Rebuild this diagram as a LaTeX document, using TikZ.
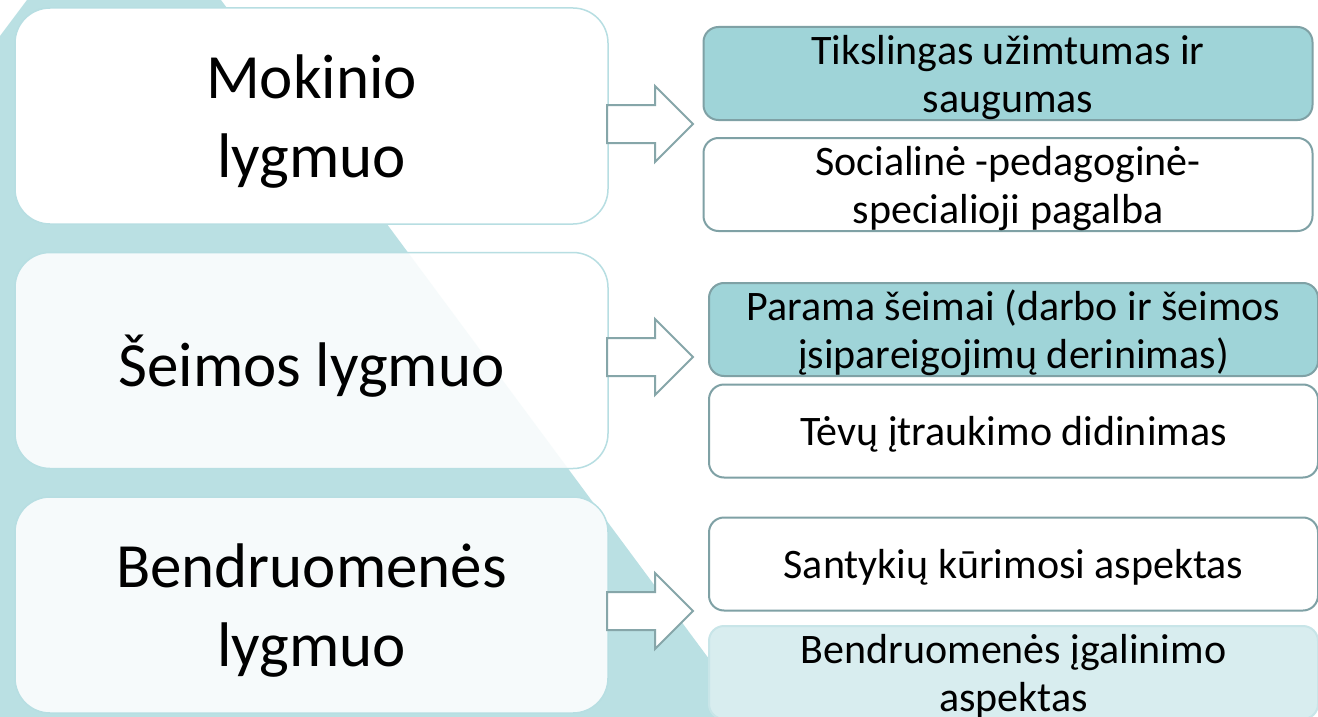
\documentclass[tikz,border=0pt]{standalone}
\usepackage{fontspec}
\setmainfont{Carlito}
\usetikzlibrary{positioning}
\definecolor{tealbg}{HTML}{BAE0E3}
\definecolor{levelline}{HTML}{B7DEE2}
\definecolor{itemline}{HTML}{7FA1A5}
\definecolor{arrowline}{HTML}{86A6A9}
\definecolor{tealfill}{HTML}{9FD4D8}
\definecolor{palefill}{HTML}{D8EDEF}
\definecolor{paleline}{HTML}{C8E5E8}
\tikzstyle{level} = [rectangle, rounded corners=35pt, minimum width=593pt, minimum height=216pt,
align=center, text depth=0pt, draw=levelline, line width=1.5pt, fill=white, font=\fontsize{63}{79}\selectfont]
\tikzstyle{plainbox} = [rectangle, rounded corners=15pt, minimum width=609pt, minimum height=93pt,
align=center, text depth=0pt, draw=itemline, line width=2pt, fill=white, font=\fontsize{42}{48}\selectfont]
\tikzstyle{tealbox} = [plainbox, fill=tealfill]
\tikzstyle{palebox} = [plainbox, fill=palefill, draw=paleline]
\tikzstyle{arrow} = [draw=arrowline, line width=2pt, fill=white, line join=miter]

\begin{document}
\begin{tikzpicture}[x=1pt, y=-1pt, node distance=244.5pt]
\useasboundingbox (0,0) rectangle (1318,717);
\fill[white] (0,0) rectangle (1318,717);
% background shape
\fill[tealbg] (0,717) -- (0,36) -- (27,0) -- (221,0) -- (752,717) -- cycle;

% levels
\node (1)[level] at (311.5,116) {Mokinio\\lygmuo};
\node (2)[level, below of=1, fill opacity=0.87, text opacity=1]{Šeimos lygmuo};
\node (3)[level, below of=2, fill opacity=0.87, text opacity=1]{Bendruomenės\\lygmuo};

% arrows
\coordinate (a1) at (607,124);
\coordinate (a2) at (607,357);
\coordinate (a3) at (607,611);
\foreach \a in {a1,a2,a3}
  \draw [arrow](\a) ++(0,-19) -- ++(48,0) -- ++(0,-19) -- ++(38,38) -- ++(-38,38) -- ++(0,-19) -- ++(-48,0) -- cycle;

% items
\node (1a)[tealbox] at (1008,73.5){Tikslingas užimtumas ir\\saugumas};
\node (1b)[plainbox] at (1008,184.5){Socialinė -pedagoginė-\\specialioji pagalba};
\node (2a)[tealbox] at (1013.5,329.5){Parama šeimai (darbo ir šeimos\\įsipareigojimų derinimas)};
\node (2b)[plainbox] at (1013.5,431){Tėvų įtraukimo didinimas};
\node (3a)[plainbox] at (1013.5,564){Santykių kūrimosi aspektas};
\node (3b)[palebox] at (1013.5,672.5){Bendruomenės įgalinimo\\aspektas};
\end{tikzpicture}
\end{document}
